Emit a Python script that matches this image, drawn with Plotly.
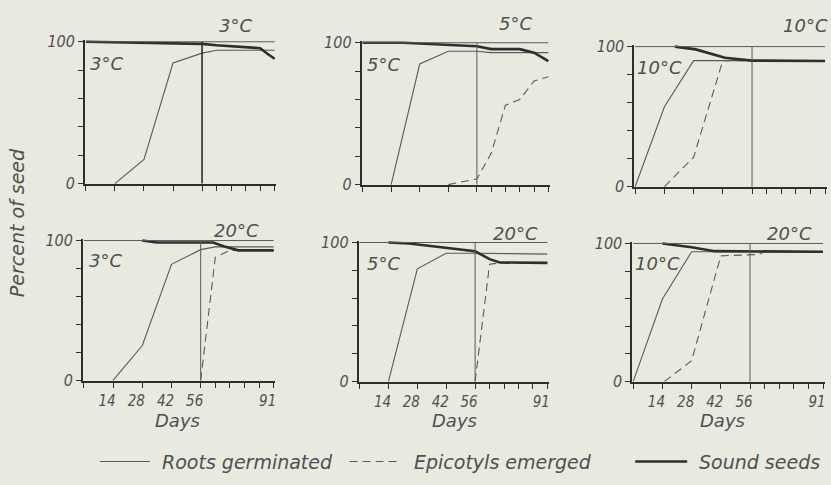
import plotly.graph_objects as go

W, H = 831, 485

# ---------------- data ----------------
day_ticks = [0, 14, 28, 42, 56, 63, 70, 77, 84, 91]
day_tick_labels = ["", "14", "28", "42", "56", "", "", "", "", "91"]
pct_ticks = [0, 20, 40, 60, 80, 100]
pct_tick_labels = ["0", "", "", "", "", "100"]

first_temps = ["3°C", "5°C", "10°C", "3°C", "5°C", "10°C"]
second_temps = ["3°C", "5°C", "10°C", "20°C", "20°C", "20°C"]
switch_day = 56

# panel 1: 3°C -> 3°C
roots_p1_days = [14, 28, 42, 56, 63, 91]
roots_p1_pct = [0, 17, 85, 92, 94, 94]
sound_p1_days = [0, 56, 63, 84, 88, 91]
sound_p1_pct = [100, 98.5, 97.5, 95.5, 91, 88]
epi_p1_days = []
epi_p1_pct = []

# panel 2: 5°C -> 5°C
roots_p2_days = [14, 28, 42, 56, 63, 91]
roots_p2_pct = [0, 85, 94, 94, 93, 93]
sound_p2_days = [0, 20, 56, 63, 77, 84, 91]
sound_p2_pct = [100, 100, 97.5, 95.5, 95.5, 93, 87]
epi_p2_days = [42, 56, 63, 70, 77, 84, 91]
epi_p2_pct = [0, 4, 22, 56, 60, 73, 76]

# panel 3: 10°C -> 10°C
roots_p3_days = [0, 14, 28, 56, 91]
roots_p3_pct = [0, 57, 90, 90, 90]
sound_p3_days = [19, 29, 43, 56, 91]
sound_p3_pct = [100, 98, 92, 90, 89.7]
epi_p3_days = [14, 28, 42, 56, 91]
epi_p3_pct = [0, 21, 90, 90, 90]

# panel 4: 3°C -> 20°C
roots_p4_days = [14, 28, 42, 56, 63, 91]
roots_p4_pct = [0, 25, 83, 93.5, 95.5, 95.5]
sound_p4_days = [28, 35, 62, 67, 74, 91]
sound_p4_pct = [100, 98.6, 98.6, 96, 93, 93]
epi_p4_days = [56, 63, 70, 91]
epi_p4_pct = [0, 88, 93, 93]

# panel 5: 5°C -> 20°C
roots_p5_days = [14, 28, 42, 56, 91]
roots_p5_pct = [0, 81, 92.3, 92.3, 91.6]
sound_p5_days = [14, 24, 56, 63, 68, 91]
sound_p5_pct = [100, 99.3, 93.7, 88, 85.6, 85.3]
epi_p5_days = [56, 63, 68, 91]
epi_p5_pct = [0, 84.4, 85.3, 85.3]

# panel 6: 10°C -> 20°C
roots_p6_days = [0, 14, 28, 91]
roots_p6_pct = [0, 59.7, 94, 94]
sound_p6_days = [14, 28, 39, 91]
sound_p6_pct = [100, 97.2, 94.4, 94]
epi_p6_days = [15, 28, 42, 60, 63, 91]
epi_p6_pct = [0, 15, 91, 92, 94, 94]

roots_days = [roots_p1_days, roots_p2_days, roots_p3_days, roots_p4_days, roots_p5_days, roots_p6_days]
roots_pct = [roots_p1_pct, roots_p2_pct, roots_p3_pct, roots_p4_pct, roots_p5_pct, roots_p6_pct]
sound_days = [sound_p1_days, sound_p2_days, sound_p3_days, sound_p4_days, sound_p5_days, sound_p6_days]
sound_pct = [sound_p1_pct, sound_p2_pct, sound_p3_pct, sound_p4_pct, sound_p5_pct, sound_p6_pct]
epi_days = [epi_p1_days, epi_p2_days, epi_p3_days, epi_p4_days, epi_p5_days, epi_p6_days]
epi_pct = [epi_p1_pct, epi_p2_pct, epi_p3_pct, epi_p4_pct, epi_p5_pct, epi_p6_pct]

series_names = ["Roots germinated", "Epicotyls emerged", "Sound seeds"]
y_title = "Percent of seed"
x_title = "Days"

# ---------------- style / layout ----------------
BG = "#e8e9df"
INK = "#2e2e2e"
THIN = "#5a5a5a"
TXT = "#505050"
FONT = "DejaVu Sans, Liberation Sans, sans-serif"
NFONT = "DejaVu Sans Condensed, Liberation Sans Narrow, DejaVu Sans, sans-serif"

# pixel positions: (x of day 0, x of day 91, y of 100 %, y of 0 %)
panel_px = [(86, 275, 35, 182), (363, 549, 36, 183), (636, 826, 40, 185),
            (84, 274, 241, 386), (360, 548, 243, 387), (634, 824, 244, 387)]
XR = (-0.5, 91.8)
YR = (-0.4, 101.2)


def px_x(p):
    return p / W


def px_y(p):
    return 1 - p / H


fig = go.Figure()
layout = dict(width=W, height=H, margin=dict(l=0, r=0, t=0, b=0),
              paper_bgcolor=BG, plot_bgcolor=BG, showlegend=False,
              font=dict(family=FONT, color=TXT, style="italic"))
shapes = []
annotations = []

for i, (x0, x91, y100, y0) in enumerate(panel_px):
    n = i + 1
    xs = "" if n == 1 else str(n)
    xa, ya = "x" + xs, "y" + xs
    ppx = (x91 - x0) / 91.0
    ppy = (y0 - y100) / 100.0
    dl = x0 + (XR[0]) * ppx
    dr = x91 + (XR[1] - 91) * ppx
    db = y0 - (YR[0]) * ppy
    dt = y100 - (YR[1] - 100) * ppy
    bottom_row = i >= 3
    layout["xaxis" + xs] = dict(
        domain=[px_x(dl), px_x(dr)], range=list(XR), anchor=ya,
        showgrid=False, zeroline=False, showline=True, linecolor=INK, linewidth=1.6,
        ticks="outside", ticklen=5, tickwidth=1, tickcolor=INK,
        tickmode="array", tickvals=day_ticks,
        ticktext=day_tick_labels if bottom_row else [""] * len(day_ticks),
        ticklabelshift=-6,
        tickfont=dict(family=NFONT, size=15, color=TXT, style="italic"),
        fixedrange=True)
    layout["yaxis" + xs] = dict(
        domain=[px_y(db), px_y(dt)], range=list(YR), anchor=xa,
        showgrid=False, zeroline=False, showline=True, linecolor=INK, linewidth=1.6,
        ticks="outside", ticklen=5, tickwidth=1, tickcolor=INK,
        tickmode="array", tickvals=pct_ticks, ticktext=pct_tick_labels,
        tickfont=dict(family=NFONT, size=16, color=TXT, style="italic"),
        fixedrange=True)

    # frame top line and switch line
    shapes.append(dict(type="line", xref=xa, yref=ya, x0=0, x1=91, y0=100, y1=100,
                       line=dict(color=THIN, width=1)))
    shapes.append(dict(type="line", xref=xa, yref=ya, x0=switch_day, x1=switch_day,
                       y0=0, y1=100, line=dict(color=INK if i == 0 else THIN,
                                               width=1.6 if i == 0 else 1)))

    fig.add_trace(go.Scatter(x=roots_days[i], y=roots_pct[i], mode="lines",
                             xaxis=xa, yaxis=ya, name=series_names[0],
                             line=dict(color=THIN, width=1.1)))
    if epi_days[i]:
        fig.add_trace(go.Scatter(x=epi_days[i], y=epi_pct[i], mode="lines",
                                 xaxis=xa, yaxis=ya, name=series_names[1],
                                 line=dict(color=THIN, width=1.1, dash="8px,5px")))
    fig.add_trace(go.Scatter(x=sound_days[i], y=sound_pct[i], mode="lines",
                             xaxis=xa, yaxis=ya, name=series_names[2],
                             line=dict(color=INK, width=2.6)))

# temperature labels
second_pos = [(236, 18), (516, 16), (806, 18), (237, 231), (516, 234), (790, 234)]
first_pos = [(107, 57), (384, 59), (660, 62), (106, 262), (384, 265), (658, 265)]
for i in range(6):
    annotations.append(dict(text=second_temps[i], xref="paper", yref="paper",
                            x=px_x(second_pos[i][0]), y=px_y(second_pos[i][1]),
                            xanchor="center", yanchor="middle", showarrow=False,
                            font=dict(size=18, color=TXT, style="italic")))
    annotations.append(dict(text=first_temps[i], xref="paper", yref="paper",
                            x=px_x(first_pos[i][0]), y=px_y(first_pos[i][1]),
                            xanchor="center", yanchor="middle", showarrow=False,
                            font=dict(size=18, color=TXT, style="italic")))

# axis titles
for cx in (178, 455, 723):
    annotations.append(dict(text=x_title, xref="paper", yref="paper",
                            x=px_x(cx), y=px_y(427), xanchor="center", yanchor="middle",
                            showarrow=False, font=dict(size=18, color=TXT, style="italic")))
annotations.append(dict(text=y_title, xref="paper", yref="paper", x=px_x(17), y=px_y(222),
                        xanchor="center", yanchor="middle", textangle=-90, showarrow=False,
                        font=dict(size=19, color=TXT, style="italic")))

# legend (custom, bottom)
leg_y = 470
leg_items = [(100, 150, 160, dict(color=THIN, width=1.1)),
             (350, 402, 412, dict(color=THIN, width=1.1, dash="8px,5px")),
             (636, 688, 698, dict(color=INK, width=2.6))]
for (lx0, lx1, tx, ln), name in zip(leg_items, series_names):
    shapes.append(dict(type="line", xref="paper", yref="paper", x0=px_x(lx0), x1=px_x(lx1),
                       y0=px_y(leg_y), y1=px_y(leg_y), line=ln))
    annotations.append(dict(text=name, xref="paper", yref="paper", x=px_x(tx), y=px_y(leg_y),
                            xanchor="left", yanchor="middle", showarrow=False,
                            font=dict(size=19, color=TXT, style="italic")))

layout["shapes"] = shapes
layout["annotations"] = annotations
fig.update_layout(**layout)
fig.write_html("out.html", config={"displayModeBar": False},
               post_script="document.body.style.margin='0';document.body.style.padding='0';"
                           "document.body.style.background='" + BG + "';")
